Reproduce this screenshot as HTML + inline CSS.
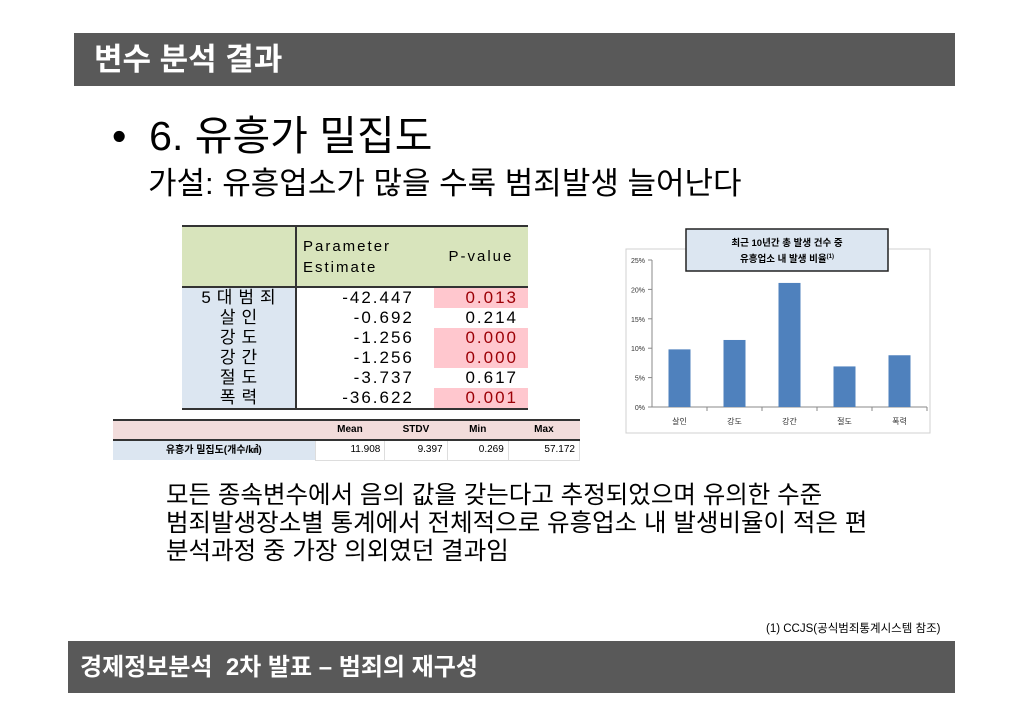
<!DOCTYPE html>
<html><head><meta charset="utf-8"><style>
body{margin:0;width:1030px;height:728px;background:#fff;position:relative;overflow:hidden;font-family:"Liberation Sans","Noto Sans CJK KR",sans-serif;}
.abs{position:absolute;}
.bar{background:#595959;color:#fff;font-weight:bold;}
table{border-collapse:collapse;position:absolute;}
.t1 td{padding:0;height:20px;line-height:18px;font-size:17px;letter-spacing:2px;overflow:hidden;white-space:nowrap;}
.t1 td.k{letter-spacing:6px;padding-left:6px;}
.t2 td{font-size:10px;padding:0 4px;line-height:18px;}
</style></head><body>
<div class="abs bar" style="left:74px;top:33px;width:881px;height:53px;font-size:31px;line-height:53px;padding-left:20px;box-sizing:border-box;">변수 분석 결과</div>
<div class="abs" style="left:112px;top:112px;font-size:41px;line-height:48px;white-space:nowrap;">•&nbsp; 6. 유흥가 밀집도</div>
<div class="abs" style="left:148px;top:164px;font-size:31px;line-height:40px;white-space:nowrap;">가설: 유흥업소가 많을 수록 범죄발생 늘어난다</div>

<table class="t1" style="left:182px;top:225px;width:346px;border-top:2px solid #333;border-bottom:2px solid #333;">
<tr style="background:#d8e4bc;"><td style="height:59px;width:113px;border-right:2px solid #333;border-bottom:2px solid #333"></td><td style="border-bottom:2px solid #333;font-size:15px;padding-left:6px;line-height:21px;">Parameter<br>Estimate</td><td style="border-bottom:2px solid #333;font-size:15px;text-align:center">P-value</td></tr>
<tr><td class="k" style="background:#dce6f1;text-align:center;border-right:2px solid #333">5대범죄</td><td style="text-align:right;padding-right:20px">-42.447</td><td style="background:#ffc7ce;color:#9c0006;text-align:right;padding-right:10px">0.013</td></tr>
<tr><td class="k" style="background:#dce6f1;text-align:center;border-right:2px solid #333">살인</td><td style="text-align:right;padding-right:20px">-0.692</td><td style="text-align:right;padding-right:10px">0.214</td></tr>
<tr><td class="k" style="background:#dce6f1;text-align:center;border-right:2px solid #333">강도</td><td style="text-align:right;padding-right:20px">-1.256</td><td style="background:#ffc7ce;color:#9c0006;text-align:right;padding-right:10px">0.000</td></tr>
<tr><td class="k" style="background:#dce6f1;text-align:center;border-right:2px solid #333">강간</td><td style="text-align:right;padding-right:20px">-1.256</td><td style="background:#ffc7ce;color:#9c0006;text-align:right;padding-right:10px">0.000</td></tr>
<tr><td class="k" style="background:#dce6f1;text-align:center;border-right:2px solid #333">절도</td><td style="text-align:right;padding-right:20px">-3.737</td><td style="text-align:right;padding-right:10px">0.617</td></tr>
<tr><td class="k" style="background:#dce6f1;text-align:center;border-right:2px solid #333">폭력</td><td style="text-align:right;padding-right:20px">-36.622</td><td style="background:#ffc7ce;color:#9c0006;text-align:right;padding-right:10px">0.001</td></tr>
</table>

<table class="t2" style="left:113px;top:419px;width:467px;border-top:2px solid #333;">
<tr style="background:#f2dcdb;height:20px;font-weight:bold"><td style="width:194px;border-bottom:2px solid #333"></td><td style="text-align:center;border-bottom:2px solid #333">Mean</td><td style="text-align:center;border-bottom:2px solid #333">STDV</td><td style="text-align:center;border-bottom:2px solid #333">Min</td><td style="text-align:center;border-bottom:2px solid #333">Max</td></tr>
<tr style="height:20px"><td style="background:#dce6f1;text-align:center;font-weight:bold">유흥가 밀집도(개수/㎢)</td><td style="text-align:right;border:1px solid #ddd">11.908</td><td style="text-align:right;border:1px solid #ddd">9.397</td><td style="text-align:right;border:1px solid #ddd">0.269</td><td style="text-align:right;border:1px solid #ddd">57.172</td></tr>
</table>

<svg class="abs" style="left:0;top:0" width="1030" height="728">
<rect x="626" y="249" width="304" height="184" fill="#fff" stroke="#d0d0d0"/>
<g id="chart"></g>
<rect x="686" y="229" width="202" height="42" fill="#dce6f1" stroke="#222" stroke-width="1.5"/>
<text x="787" y="246" text-anchor="middle" font-size="9.5" font-weight="bold" font-family="Liberation Sans,Noto Sans CJK KR,sans-serif">최근 10년간 총 발생 건수 중</text>
<text x="787" y="262" text-anchor="middle" font-size="9.5" font-weight="bold" font-family="Liberation Sans,Noto Sans CJK KR,sans-serif">유흥업소 내 발생 비율<tspan font-size="6" dy="-4">(1)</tspan></text>
</svg>

<div class="abs" style="left:166px;top:482px;font-size:24.5px;line-height:28px;white-space:nowrap;">모든 종속변수에서 음의 값을 갖는다고 추정되었으며 유의한 수준<br>범죄발생장소별 통계에서 전체적으로 유흥업소 내 발생비율이 적은 편<br>분석과정 중 가장 의외였던 결과임</div>
<div class="abs" style="left:766px;top:620px;font-size:11.5px;white-space:nowrap;">(1) CCJS(공식범죄통계시스템 참조)</div>
<div class="abs bar" style="left:68px;top:641px;width:887px;height:52px;font-size:24px;line-height:54px;padding-left:12px;box-sizing:border-box;white-space:nowrap;">경제정보분석&nbsp; 2차 발표 – 범죄의 재구성</div>

<script>
const categories=["살인","강도","강간","절도","폭력"];
const values=[9.8,11.4,21.1,6.9,8.8];
const yTicks=[0,5,10,15,20,25];
const ns="http://www.w3.org/2000/svg";
const g=document.getElementById('chart');
const x0=652,x1=927,y0=407,y1=260,yMax=25;
const yS=v=>y0-(v/yMax)*(y0-y1);
const band=(x1-x0)/categories.length;
const xS=i=>x0+band*(i+0.5);
function mk(t,a){const e=document.createElementNS(ns,t);for(const k in a)e.setAttribute(k,a[k]);g.appendChild(e);return e;}
let ax=mk('line',{x1:x0,y1:y1,x2:x0,y2:y0,stroke:'#888'});


yTicks.forEach(t=>{
 const tk=mk('line',{x1:x0-4,y1:yS(t),x2:x0,y2:yS(t),stroke:'#888'});
 
 
 const l=mk('text',{x:x0-7,y:yS(t)+3,'text-anchor':'end','font-size':7,fill:'#333'});
 l.textContent=t+'%';
 
 
});
let xa=mk('line',{x1:x0,y1:y0,x2:x1,y2:y0,stroke:'#888'});


categories.forEach((c,i)=>{
 const r=mk('rect',{x:xS(i)-11,y:yS(values[i]),width:22,height:y0-yS(values[i]),fill:'#4f81bd'});
 
 
 const tk=mk('line',{x1:x0+band*(i+1),y1:y0,x2:x0+band*(i+1),y2:y0+4,stroke:'#888'});
 
 
 const l=mk('text',{x:xS(i),y:y0+17,'text-anchor':'middle','font-size':8,fill:'#333','font-family':'Liberation Sans,Noto Sans CJK KR,sans-serif'});
 l.textContent=c;
 
 
});
</script>
</body></html>
